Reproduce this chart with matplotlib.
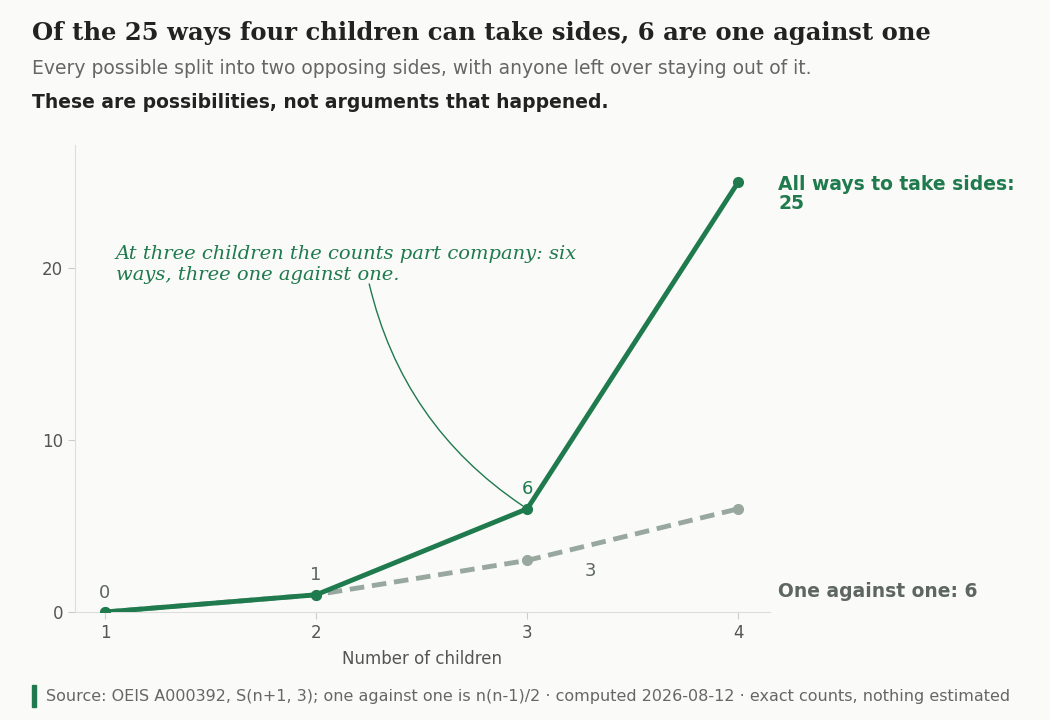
import matplotlib
matplotlib.use("Agg")
import matplotlib.pyplot as plt

children = [1, 2, 3, 4]
all_ways = [0, 1, 6, 25]
one_vs_one = [0, 1, 3, 6]
yticks = [0, 10, 20]

GREEN = "#1f7a4d"
GREY = "#98a89f"
DARK = "#5d6660"
BG = "#fafaf8"

fig = plt.figure(figsize=(10.5, 7.2), dpi=100, facecolor=BG)
ax = fig.add_axes([75/1050, 1-612/720, 695/1050, 467/720], facecolor=BG)

ax.plot(children, one_vs_one, color=GREY, lw=3.5, ls=(0, (3, 1.6)), marker="o", ms=7, zorder=2)
ax.plot(children, all_ways, color=GREEN, lw=3.5, marker="o", ms=7, zorder=3)

ax.set_xlim(0.858, 4.15)
ax.set_ylim(0, 27.15)
ax.set_xticks(children)
ax.set_yticks(yticks)
ax.tick_params(colors="#555", labelsize=12, length=5, color="#ccc")
for s in ["top", "right"]:
    ax.spines[s].set_visible(False)
ax.spines["left"].set_color("#ddd")
ax.spines["bottom"].set_color("#ddd")
ax.set_xlabel("Number of children", fontsize=12, color="#555", labelpad=6)

ax.text(1, 0.6, "0", ha="center", va="bottom", fontsize=13, color=DARK)
ax.text(2, 1.6, "1", ha="center", va="bottom", fontsize=13, color=DARK)
ax.text(3, 6.6, "6", ha="center", va="bottom", fontsize=13, color=GREEN)
ax.text(3.3, 2.4, "3", ha="center", va="center", fontsize=13, color=DARK)

ax.text(4.19, 24.3, "All ways to take sides:\n25", fontsize=13.5, fontweight="bold",
        color=GREEN, va="center", ha="left", clip_on=False, linespacing=1.0)
ax.text(4.19, 1.2, "One against one: 6", fontsize=13.5, fontweight="bold",
        color=DARK, va="center", ha="left", clip_on=False)

ax.annotate("At three children the counts part company: six\nways, three one against one.",
            xy=(3, 6), xytext=(1.05, 20.2), fontsize=14, fontstyle="italic",
            family="DejaVu Serif", color=GREEN, va="center", ha="left",
            arrowprops=dict(arrowstyle="-", color=GREEN, lw=1,
                            connectionstyle="arc3,rad=0.2", shrinkA=0, shrinkB=4,
                            patchA=None, relpos=(0.55, 0)))

fig.text(32/1050, 1-33/720, "Of the 25 ways four children can take sides, 6 are one against one",
         fontsize=17.5, fontweight="bold", family="DejaVu Serif", color="#222", va="center")
fig.text(32/1050, 1-69/720, "Every possible split into two opposing sides, with anyone left over staying out of it.",
         fontsize=13.5, color="#666", va="center")
fig.text(32/1050, 1-103/720, "These are possibilities, not arguments that happened.",
         fontsize=13.5, fontweight="bold", color="#222", va="center")
fig.patches.append(plt.Rectangle((32/1050, 1-707/720), 4/1050, 22/720, color=GREEN,
                                 transform=fig.transFigure, figure=fig))
fig.text(46/1050, 1-697/720,
         "Source: OEIS A000392, S(n+1, 3); one against one is n(n-1)/2 · computed 2026-08-12 · exact counts, nothing estimated",
         fontsize=11.5, color="#666", va="center")

fig.savefig("out.png", dpi=100, facecolor=BG)
